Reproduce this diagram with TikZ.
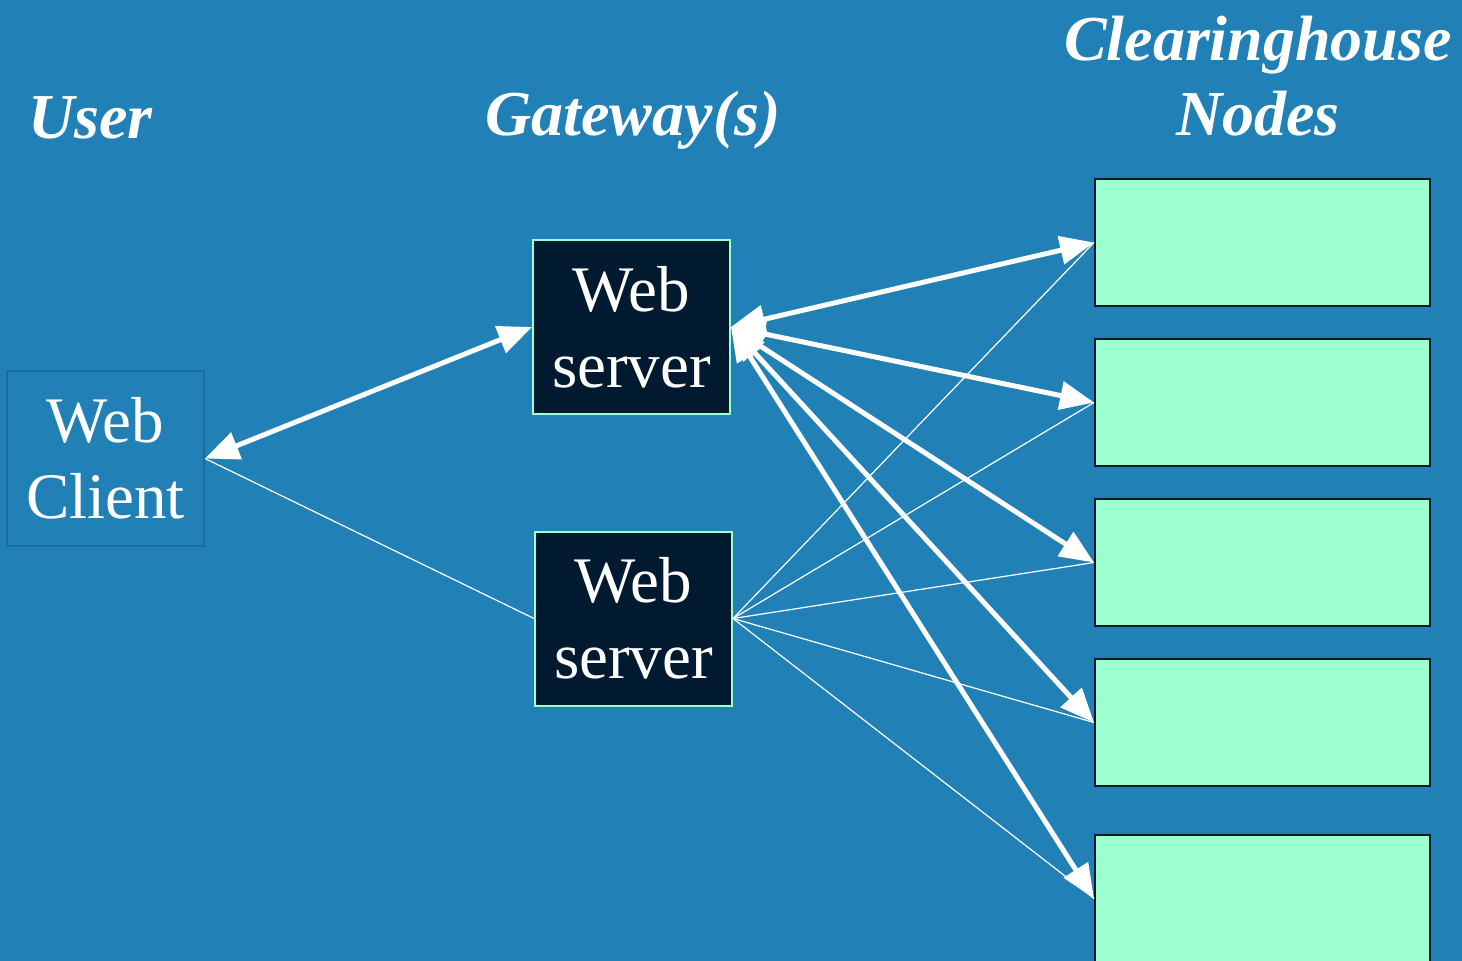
\documentclass[tikz,border=0pt]{standalone}
\usepackage{fontspec}
\setmainfont{Liberation Serif}
\usetikzlibrary{arrows.meta}

\definecolor{slidebg}{RGB}{33,129,182}
\definecolor{clientline}{RGB}{28,108,158}
\definecolor{serverfill}{RGB}{2,26,48}
\definecolor{nodefill}{RGB}{156,255,206}
\definecolor{nodeline}{RGB}{10,26,42}

\tikzset{
  bigtext/.style={font=\fontsize{65}{76}\selectfont, text=white, align=center, inner sep=0pt},
  heading/.style={font=\fontsize{64}{75}\selectfont\bfseries\itshape, text=white, inner sep=0pt},
  webclient/.style={draw=clientline, line width=2pt, minimum width=197pt, minimum height=175pt, bigtext},
  webserver/.style={draw=nodefill, fill=serverfill, line width=2pt, minimum width=197pt, minimum height=174pt, bigtext},
  chnode/.style={draw=nodeline, fill=nodefill, line width=2pt, minimum width=335pt, minimum height=127pt},
  thickarrow/.style={white, line width=5pt, {Triangle[length=34pt,width=28pt]}-{Triangle[length=34pt,width=28pt]}},
  thinline/.style={white, line width=1.2pt}
}

\begin{document}
\begin{tikzpicture}[x=1pt,y=-1pt]
        \useasboundingbox (0,0) rectangle (1462,961);
        \fill[slidebg] (0,0) rectangle (1462,961);

        % headings
        \node[heading, anchor=base west] (user) at (28,138) {User};
        \node[heading, anchor=base] (gateway) at (633,135) {Gateway(s)};
        \node[heading, anchor=base] (clearing) at (1258,60) {Clearinghouse};
        \node[heading, anchor=base] (chnodes) at (1258,135) {Nodes};

        % boxes
        \node[webclient] (client) at (105.5,458.5) {Web\\Client};
        \node[webserver] (s1) at (631.5,327) {Web\\server};
        \node[webserver] (s2) at (633.5,618.5) {Web\\server};

        \node[chnode] (n1) at (1262.5,242.5) {};
        \node[chnode] (n2) at (1262.5,402.5) {};
        \node[chnode] (n3) at (1262.5,562.5) {};
        \node[chnode] (n4) at (1262.5,722.5) {};
        \node[chnode] (n5) at (1262.5,898.5) {};

        % thin links from second server
        \draw[thinline] (client.east) -- (s2.west);
        \foreach \n in {n1,n2,n3,n4,n5}
            \draw[thinline] (s2.east) -- (\n.west);

        % thick links from first server
        \draw[thickarrow] (client.east) -- (s1.west);
        \foreach \n in {n1,n2,n3,n4,n5}
            \draw[thickarrow] (s1.east) -- (\n.west);
\end{tikzpicture}
\end{document}
